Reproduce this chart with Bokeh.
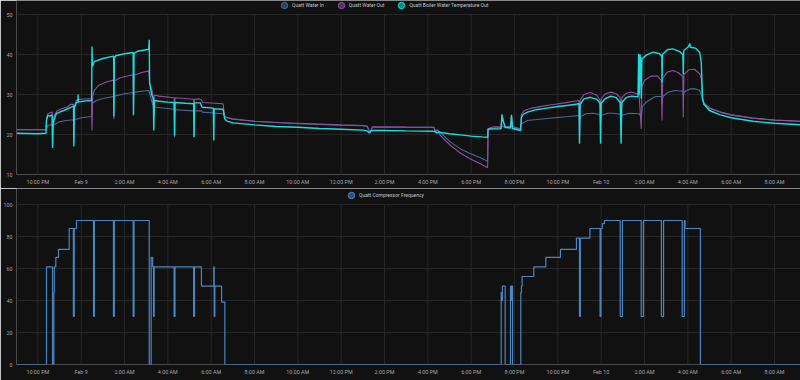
import pandas as pd
from bokeh.plotting import figure
from bokeh.layouts import column
from bokeh.models import Range1d, FixedTicker, Legend, LegendItem
from bokeh.embed import file_html
from bokeh.resources import INLINE

# ---------------- data (hours after Feb 8, 22:00) ----------------
BASE = pd.Timestamp("2025-02-08 22:00")

tick_hours = list(range(0, 36, 2))
tick_labels = ["10:00 PM", "Feb 9", "2:00 AM", "4:00 AM", "6:00 AM", "8:00 AM",
               "10:00 AM", "12:00 PM", "2:00 PM", "4:00 PM", "6:00 PM", "8:00 PM",
               "10:00 PM", "Feb 10", "2:00 AM", "4:00 AM", "6:00 AM", "8:00 AM"]
temp_ticks = [10, 20, 30, 40, 50]
freq_ticks = [0, 20, 40, 60, 80, 100]

water_in_h = [-0.99, 0.38, 0.45, 0.66, 0.70, 0.76, 1.0, 1.3, 1.64, 1.66, 1.70, 2.0, 2.48, 2.52,
              2.7, 3.0, 3.49, 3.51, 3.55, 4.0, 4.40, 4.43, 4.47, 5.12, 5.2, 5.3, 5.45, 6.29,
              6.32, 6.36, 7.2, 7.55, 7.6, 8.55, 8.62, 8.7, 9.0, 10, 11, 12, 13, 14, 15, 15.2,
              15.33, 15.45, 17, 18.28, 18.36, 18.43, 18.58, 19.05, 19.51, 19.97, 20.43, 20.76,
              20.78, 21.38, 21.42, 21.57, 21.86, 21.91, 22.28, 22.32, 22.6, 23.5, 24.5, 24.98,
              25.0, 25.05, 25.3, 25.6, 25.95, 25.97, 26.02, 26.3, 26.6, 26.9, 26.92, 26.97, 27.3,
              27.75, 27.85, 27.9, 28.1, 28.5, 28.78, 28.81, 28.85, 29.1, 29.4, 29.77, 29.79,
              29.83, 30.1, 30.35, 30.55, 30.62, 30.68, 30.75, 31.0, 31.5, 32.0, 33.0, 34.0, 35.25]
water_in_v = [21.2, 21.2, 22.25, 22.5, 21.8, 22.5, 23.2, 23.5, 23.7, 22.8, 23.7, 24.2, 24.5, 27.8,
              28.5, 29.0, 29.5, 28.6, 29.6, 30.2, 30.5, 29.8, 30.6, 31.0, 29.5, 27.5, 26.8, 26.3,
              25.6, 26.2, 25.9, 25.9, 25.6, 25.2, 24.6, 24.3, 23.9, 23.3, 23.0, 22.7, 22.5, 22.3, 22.2, 22.0,
              20.6, 21.8, 21.8, 21.8, 20.6, 21.2, 20.5, 18.1, 16.4, 15.2, 14.2, 13.3,
              21.4, 21.8, 22.3, 21.6, 22.3, 21.6, 21.4, 22.7, 23.5, 24.0, 24.5, 24.75,
              23.5, 24.5, 25.2, 25.3, 25.0, 23.8, 24.8, 25.3, 25.3, 25.0, 23.8, 24.8, 25.3,
              25.2, 24.3, 27.0, 28.2, 29.5, 29.5, 27.5, 29.5, 30.6, 31.0, 30.8, 29.5,
              30.6, 31.4, 31.4, 31.0, 30.0, 28.5, 27.8, 26.7, 25.6, 24.9, 24.1, 23.6, 23.3]

water_out_h = [-0.99, 0.38, 0.40, 0.46, 0.60, 0.66, 0.68, 0.71, 0.76, 0.9, 1.2, 1.4, 1.5, 1.64,
               1.66, 1.69, 1.78, 2.0, 2.48, 2.50, 2.53, 2.6, 2.8, 3.2, 3.49, 3.51, 3.53, 3.8, 4.2,
               4.40, 4.415, 4.44, 4.8, 5.12, 5.16, 5.3, 5.36, 5.38, 5.6, 6.29, 6.31, 6.33, 7.19,
               7.21, 7.23, 7.4, 7.55, 7.6, 8.55, 8.62, 8.7, 9.0, 10, 11, 12, 13, 14, 15, 15.2,
               15.33, 15.45, 16, 17, 18.28, 18.36, 18.43, 18.58, 19.05, 19.51, 19.97, 20.43, 20.76,
               20.78, 21.0, 21.38, 21.42, 21.46, 21.57, 21.82, 21.86, 21.91, 22.28, 22.32, 22.45,
               22.8, 23.3, 23.8, 24.3, 24.98, 25.0, 25.03, 25.2, 25.5, 25.8, 25.95, 25.97, 26.0,
               26.2, 26.45, 26.7, 26.88, 26.92, 26.95, 27.15, 27.4, 27.75, 27.85, 27.88, 28.0,
               28.3, 28.6, 28.78, 28.81, 28.84, 29.05, 29.3, 29.55, 29.77, 29.79, 29.82, 30.05,
               30.3, 30.55, 30.62, 30.68, 30.75, 31.0, 31.5, 32.0, 33.0, 34.0, 35.25]
water_out_v = [21.2, 21.2, 24.0, 25.2, 25.5, 25.6, 17.5, 23.5, 24.8, 26.0, 26.6, 27.0, 27.5, 27.6,
               17.8, 27.0, 28.6, 28.8, 29.0, 21.0, 29.5, 31.0, 32.3, 33.2, 33.6, 23.9, 33.4, 34.2, 34.7,
               34.9, 24.7, 34.8, 35.5, 35.9, 32.7, 30.5, 24.3, 29.8, 29.6, 29.2, 19.3, 29.2, 28.8,
               19.5, 28.8, 28.9, 28.7, 28.0, 27.7, 24.6, 24.2, 23.8, 23.3, 23.0, 22.8, 22.6, 22.4, 22.25, 22.1,
               20.3, 21.9, 21.9, 21.85, 21.8, 20.4, 21.2, 19.75, 17.25, 15.3, 13.9, 12.7, 11.7,
               21.5, 21.9, 21.9, 25.2, 23.5, 22.0, 21.8, 24.75, 22.0, 21.4, 25.0, 26.0,
               26.6, 27.1, 27.5, 27.9, 28.5, 18.5, 28.5, 30.0, 30.5, 29.8, 28.5, 20.5, 29.0,
               30.2, 30.6, 30.2, 29.2, 21.0, 29.2, 30.3, 30.6, 30.0, 21.4, 32.0, 33.5,
               34.6, 34.6, 33.5, 23.5, 34.0, 35.6, 36.0, 35.5, 34.5, 24.3, 35.0, 36.2,
               36.3, 35.2, 34.0, 29.0, 27.5, 26.5, 25.6, 24.9, 24.1, 23.6, 23.3]

boiler_h = [-0.99, 0.0, 0.38, 0.40, 0.46, 0.55, 0.66, 0.68, 0.70, 0.74, 0.85, 1.0, 1.2, 1.4, 1.5,
            1.6, 1.65, 1.66, 1.68, 1.78, 1.85, 1.86, 1.87, 2.2, 2.48, 2.50, 2.52, 2.6, 3.0, 3.5,
            3.51, 3.53, 3.6, 4.0, 4.4, 4.415, 4.44, 4.6, 5.0, 5.12, 5.14, 5.16, 5.25, 5.33, 5.35,
            5.38, 5.6, 6.0, 6.29, 6.31, 6.33, 6.8, 7.19, 7.21, 7.23, 7.5, 7.58, 8.1, 8.12, 8.14,
            8.55, 8.62, 8.7, 9.0, 10, 11, 12, 13, 14, 15, 15.2, 15.3, 15.4, 16, 17, 18.3, 18.4,
            18.5, 19.0, 19.5, 20.0, 20.5, 20.76, 20.78, 21.0, 21.38, 21.42, 21.5, 21.57, 21.82,
            21.86, 21.91, 22.28, 22.32, 22.4, 22.6, 23.0, 23.5, 24.0, 24.5, 24.98, 25.0, 25.03,
            25.2, 25.5, 25.8, 25.95, 25.97, 26.0, 26.2, 26.45, 26.7, 26.88, 26.92, 26.95, 27.15,
            27.4, 27.70, 27.73, 27.76, 27.80, 27.83, 27.85, 27.88, 28.1, 28.4, 28.7, 28.80,
            28.81, 28.83, 29.05, 29.3, 29.6, 29.77, 29.79, 29.81, 30.0, 30.1, 30.12, 30.35,
            30.55, 30.62, 30.68, 30.75, 31.0, 31.5, 32.0, 33.0, 34.0, 35.25]
boiler_v = [20.3, 20.2, 20.3, 23.5, 24.8, 24.6, 24.9, 16.6, 22.5, 23.5, 25.2, 25.6, 26.0, 26.5, 26.7,
            27.0, 27.2, 17.0, 26.5, 28.0, 28.1, 30.0, 28.1, 28.4, 28.5, 42.0, 37.0, 38.2, 39.0, 39.6,
            24.5, 39.0, 39.7, 40.2, 40.5, 25.0, 40.3, 40.8, 41.2, 41.3, 43.7, 33.0, 30.0, 29.0, 21.0,
            28.5, 28.3, 28.1, 28.0, 19.7, 28.0, 27.8, 27.7, 19.3, 27.9, 27.9, 26.8, 26.6, 18.5, 26.4,
            26.3, 24.0, 23.4, 22.9, 22.4, 22.0, 21.8, 21.5, 21.3, 21.1, 20.9, 20.4, 21.0, 21.0, 20.9, 20.8, 20.4,
            20.6, 20.2, 19.9, 19.6, 19.4, 19.3, 21.3, 21.4, 21.4, 24.9, 23.0, 21.8, 21.6,
            24.9, 21.5, 21.0, 24.3, 25.0, 25.6, 26.2, 26.6, 27.0, 27.3, 27.7, 17.7, 27.5,
            28.9, 29.3, 28.8, 27.8, 17.7, 27.8, 29.0, 29.6, 29.2, 28.0, 17.7, 28.0, 29.2,
            29.6, 29.4, 40.2, 30.0, 40.0, 38.0, 29.0, 38.9, 39.9, 40.6, 40.2, 39.5,
            33.0, 40.0, 41.2, 41.4, 40.8, 40.0, 35.0, 41.0, 41.8, 42.7, 41.8, 41.6,
            40.5, 38.0, 29.0, 27.5, 26.0, 24.9, 24.2, 23.3, 22.8, 22.4]

compressor_h = [-0.99, 0.40, 0.677, 0.738, 0.76, 0.83, 0.954, 1.446, 1.64, 1.68, 1.785, 2.57, 2.61,
                3.49, 3.53, 4.40, 4.44, 5.14, 5.23, 5.30, 5.34, 5.37, 6.29, 6.33, 7.19, 7.23, 7.55,
                8.12, 8.14, 8.17, 8.48, 8.63, 21.385, 21.415, 21.44, 21.57, 21.815, 21.86, 21.88,
                21.91, 22.29, 22.32, 22.35, 22.89, 23.445, 24.12, 24.86, 25.00, 25.04, 25.48, 25.95,
                25.99, 26.05, 26.15, 26.88, 26.98, 27.85, 27.95, 28.78, 28.88, 29.74, 29.84, 29.87,
                30.58, 35.25]
compressor_v = [0, 61, 0, 45, 61, 67, 72, 85, 30, 85, 90, 30, 90,
                30, 90, 30, 90, 0, 67, 61, 30, 61, 30, 61, 30, 61, 49,
                61, 30, 49, 39, 0, 45, 40, 49, 0, 49, 40, 49,
                0, 45, 49, 55, 61, 67, 72, 79, 30, 79, 85, 30,
                85, 88, 90, 30, 90, 30, 90, 30, 90, 30, 90, 85,
                0, 0]

# ---------------- styling ----------------
BG = "#111111"
GRID = "#272727"
TXT = "#a3a3a3"
FONT = "Roboto"
C_IN, C_OUT, C_BOIL, C_COMP = "#49699a", "#8e4f9f", "#19dede", "#4b86c2"
NAN = float("nan")


def t(hours):
    return [BASE + pd.Timedelta(hours=h) for h in hours]


tick_times = t(tick_hours)
tick_ms = [int(ts.value // 10**6) for ts in tick_times]
x_range = Range1d(start=BASE - pd.Timedelta(hours=0.985), end=BASE + pd.Timedelta(hours=35.2))


def make_fig(yticks, y_top, height, border_bottom):
    p = figure(width=800, height=height, x_axis_type="datetime", x_range=x_range,
               y_range=Range1d(yticks[0], y_top), output_backend="svg", toolbar_location=None,
               background_fill_color=BG, border_fill_color=BG,
               min_border_left=16, min_border_right=0, min_border_top=0,
               min_border_bottom=border_bottom)
    p.outline_line_color = None
    p.xaxis.ticker = FixedTicker(ticks=tick_ms)
    p.xaxis.major_label_overrides = {ms: lab for ms, lab in zip(tick_ms, tick_labels)}
    p.yaxis.ticker = FixedTicker(ticks=yticks)
    for ax in (p.xaxis, p.yaxis):
        ax.axis_line_color = None
        ax.major_tick_line_color = None
        ax.minor_tick_line_color = None
        ax.major_tick_out = 0
        ax.major_tick_in = 0
        ax.minor_tick_out = 0
        ax.major_label_text_color = TXT
        ax.major_label_text_font = FONT
        ax.major_label_text_font_size = "5.4px"
    p.xaxis.major_label_standoff = 4
    p.yaxis.major_label_standoff = 4
    p.xgrid.grid_line_color = None
    p.ygrid.grid_line_color = GRID
    # vertical grid lines, only between the lowest and highest y tick
    p.segment(x0=tick_times, y0=[yticks[0]] * len(tick_times), x1=tick_times,
              y1=[yticks[-1]] * len(tick_times), line_color=GRID, line_width=1)
    return p


def add_legend(p, entries, x_off, y_off):
    items = []
    for label, color in entries:
        r = p.scatter(x=[NAN], y=[NAN], marker="circle", size=6, fill_color=color,
                      fill_alpha=0.55, line_color=color, line_width=1)
        items.append(LegendItem(label=label, renderers=[r]))
    leg = Legend(items=items, orientation="horizontal", location=(x_off, y_off),
                 label_text_font=FONT, label_text_font_size="5px", label_text_color="#c4c4c4",
                 glyph_width=16, glyph_height=16, label_height=8, label_standoff=0, spacing=9,
                 padding=0, margin=0, border_line_alpha=0, background_fill_alpha=0)
    p.add_layout(leg)


p1 = make_fig(temp_ticks, 53.5, 188, 14)
p1.line(t(water_in_h), water_in_v, line_color=C_IN, line_width=1.1)
p1.line(t(water_out_h), water_out_v, line_color=C_OUT, line_width=1.1)
p1.line(t(boiler_h), boiler_v, line_color=C_BOIL, line_width=1.4)
add_legend(p1, [("Quatt Water In", C_IN), ("Quatt Water Out", C_OUT),
                ("Quatt Boiler Water Temperature Out", C_BOIL)], 260, 161)

p2 = make_fig(freq_ticks, 110, 192, 16)
p2.step(t(compressor_h), compressor_v, mode="after", line_color=C_COMP, line_width=1.2)
add_legend(p2, [("Quatt Compressor Frequency", C_COMP)], 327, 161)

layout = column(p1, p2, spacing=0)
open("out.html", "w").write(file_html(layout, INLINE))
